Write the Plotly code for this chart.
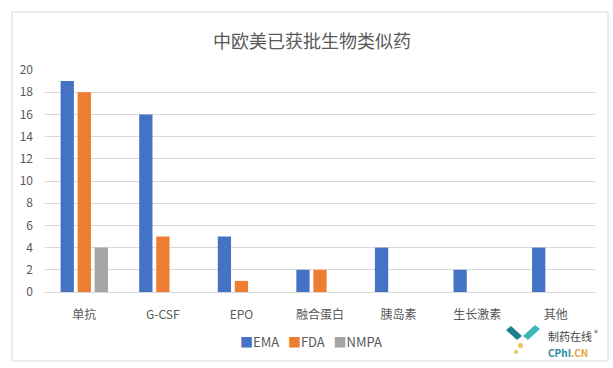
import plotly.graph_objects as go

categories = ["单抗", "G-CSF", "EPO", "融合蛋白", "胰岛素", "生长激素", "其他"]
series_names = ["EMA", "FDA", "NMPA"]
ema = [19, 16, 5, 2, 4, 2, 4]
fda = [18, 5, 1, 2, 0, 0, 0]
nmpa = [4, 0, 0, 0, 0, 0, 0]
y_ticks = [0, 2, 4, 6, 8, 10, 12, 14, 16, 18, 20]
colors = ["#4472C4", "#ED7D31", "#A5A5A5"]
title_text = "中欧美已获批生物类似药"

FONT = "Noto Sans CJK SC, Microsoft YaHei, sans-serif"
W, H = 613, 368
L, R, T, B = 45, 18, 70, 76
pw, ph = W - L - R, H - T - B

def px(x):
    return (x - L) / pw

def py(y):
    return (H - B - y) / ph

fig = go.Figure()
for name, vals, c in zip(series_names, [ema, fda, nmpa], colors):
    fig.add_trace(go.Bar(x=categories, y=vals, name=name, marker_color=c,
                         marker_line_width=0, showlegend=False))

legend_html = "&nbsp;&nbsp;&nbsp;".join(
    f"<span style='color:{c}'>■</span>{n}" for n, c in zip(series_names, colors))

fig.update_layout(
    width=W, height=H,
    margin=dict(l=L, r=R, t=T, b=B),
    paper_bgcolor="white", plot_bgcolor="white",
    barmode="group", bargap=0.35, bargroupgap=0.22,
    font=dict(family=FONT, color="#595959", size=12),
    title=dict(text=title_text, x=312 / W, xanchor="center",
               y=1 - 42 / H, yanchor="middle", yref="container",
               font=dict(size=18, color="#595959", family=FONT)),
    xaxis=dict(showgrid=False, showline=False, ticks="", ticklabelstandoff=14,
               tickfont=dict(size=12, color="#595959")),
    yaxis=dict(range=[0, 20], tickvals=y_ticks, showgrid=True,
               gridcolor="#D9D9D9", gridwidth=1, zeroline=True,
               zerolinecolor="#D9D9D9", zerolinewidth=1, showline=False,
               ticks="", ticklabelstandoff=11,
               tickfont=dict(size=12, color="#595959")),
    shapes=[
        dict(type="rect", xref="paper", yref="paper",
             x0=px(12), x1=px(608), y0=py(361), y1=py(12),
             line=dict(color="#D9D9D9", width=1), layer="above"),
        # watermark logo
        dict(type="path", xref="paper", yref="paper",
             path=f"M {px(506)} {py(330)} L {px(511)} {py(326)} L {px(522)} {py(336)} L {px(517)} {py(340)} Z",
             fillcolor="#1F7F8C", line=dict(width=0)),
        dict(type="path", xref="paper", yref="paper",
             path=f"M {px(523)} {py(336)} L {px(535)} {py(325)} L {px(540)} {py(329)} L {px(528)} {py(340)} Z",
             fillcolor="#3FB8B8", line=dict(width=0)),
        dict(type="circle", xref="paper", yref="paper",
             x0=px(518), x1=px(523), y0=py(348), y1=py(343),
             fillcolor="#E8C65A", line=dict(width=0)),
        dict(type="circle", xref="paper", yref="paper",
             x0=px(514), x1=px(518), y0=py(354), y1=py(350),
             fillcolor="#E8C65A", line=dict(width=0)),
    ],
    annotations=[
        dict(text=legend_html, xref="paper", yref="paper", x=px(311), y=py(341),
             xanchor="center", yanchor="middle", showarrow=False,
             font=dict(size=13, color="#595959", family=FONT)),
        dict(text="制药在线", xref="paper", yref="paper", x=px(546), y=py(336),
             xanchor="left", yanchor="middle", showarrow=False,
             font=dict(size=11, color="#444444", family=FONT)),
        dict(text="®", xref="paper", yref="paper", x=px(592), y=py(332),
             xanchor="left", yanchor="middle", showarrow=False,
             font=dict(size=8, color="#444444", family=FONT)),
        dict(text="<b><span style='color:#2A8C9C'>CPhI</span><span style='color:#E8A33A'>.CN</span></b>",
             xref="paper", yref="paper", x=px(546), y=py(352),
             xanchor="left", yanchor="middle", showarrow=False,
             font=dict(size=10, family=FONT)),
    ],
)

fig.write_html("out.html", config={"displayModeBar": False},
               post_script="document.body.style.margin='0';document.body.style.overflow='hidden';")
